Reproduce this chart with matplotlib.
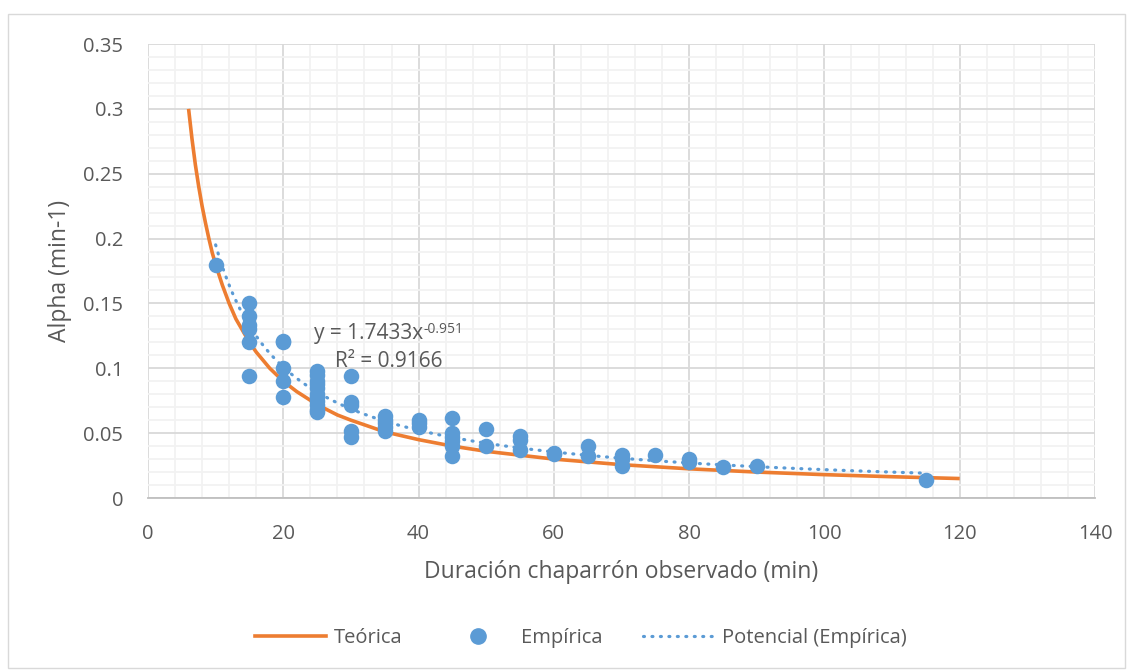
import matplotlib
matplotlib.use("Agg")
import matplotlib.pyplot as plt
import numpy as np
from matplotlib.ticker import MultipleLocator, FuncFormatter
from matplotlib.lines import Line2D

# Theoretical curve
teo_x = [6, 6.5, 7, 7.5, 8, 8.5, 9, 9.5, 10, 11, 12, 13, 14, 15, 16, 18, 20, 22, 25, 28, 30,
         35, 40, 45, 50, 60, 70, 80, 90, 100, 110, 120]
teo_y = [0.3, 0.277, 0.257, 0.24, 0.225, 0.212, 0.2, 0.189, 0.18, 0.164, 0.15, 0.138, 0.129,
         0.12, 0.1125, 0.1, 0.09, 0.082, 0.072, 0.064, 0.06, 0.051, 0.045, 0.04, 0.036,
         0.03, 0.0257, 0.0225, 0.02, 0.018, 0.0164, 0.015]

# Empirical points
emp_x = [10,
         15, 15, 15, 15, 15, 15,
         20, 20, 20, 20, 20,
         25, 25, 25, 25, 25, 25, 25, 25, 25, 25, 25,
         30, 30, 30, 30, 30,
         35, 35, 35, 35, 35,
         40, 40, 40,
         45, 45, 45, 45, 45, 45,
         50, 50,
         55, 55, 55,
         60, 60,
         65, 65,
         70, 70, 70,
         75,
         80, 80,
         85,
         90,
         115]
emp_y = [0.18,
         0.15, 0.14, 0.133, 0.13, 0.12, 0.094,
         0.121, 0.12, 0.1, 0.09, 0.078,
         0.098, 0.095, 0.09, 0.088, 0.085, 0.08, 0.078, 0.075, 0.072, 0.068, 0.066,
         0.094, 0.074, 0.072, 0.052, 0.047,
         0.063, 0.06, 0.058, 0.055, 0.052,
         0.06, 0.058, 0.055,
         0.062, 0.05, 0.047, 0.044, 0.04, 0.032,
         0.053, 0.04,
         0.048, 0.045, 0.037,
         0.035, 0.034,
         0.04, 0.032,
         0.033, 0.03, 0.025,
         0.033,
         0.03, 0.028,
         0.024,
         0.025,
         0.014]

# Power trendline coefficients (as shown on chart)
trend_a = 1.7433
trend_b = -0.951
r2 = 0.9166

ORANGE = "#ED7D31"
BLUE = "#5B9BD5"
TXT = "#595959"
DOTS = (0, (0.3, 2.35))

plt.rcParams['font.family'] = ['Open Sans', 'DejaVu Sans']

W, H = 1132, 670
fig = plt.figure(figsize=(W/100, H/100), dpi=100)
ax = fig.add_axes([148/W, 1-498/H, (1095-148)/W, (498-44)/H])

ax.set_xlim(0, 140)
ax.set_ylim(0, 0.35)
ax.xaxis.set_major_locator(MultipleLocator(20))
ax.xaxis.set_minor_locator(MultipleLocator(4))
ax.yaxis.set_major_locator(MultipleLocator(0.05))
ax.yaxis.set_minor_locator(MultipleLocator(0.01))
ax.grid(which='minor', color='#F2F2F2', linewidth=1.3, zorder=0)
ax.grid(which='major', color='#D9D9D9', linewidth=1.3, zorder=0)
ax.set_axisbelow(True)

def fmt(v, pos):
    return f"{v:.2f}".rstrip('0').rstrip('.')
ax.yaxis.set_major_formatter(FuncFormatter(fmt))

for sp in ['top', 'right', 'left']:
    ax.spines[sp].set_visible(False)
ax.spines['bottom'].set_color('#BFBFBF')
ax.spines['bottom'].set_linewidth(1.3)
ax.tick_params(which='both', length=0, labelsize=14.5, labelcolor=TXT)
ax.tick_params(axis='x', pad=19)
ax.tick_params(axis='y', pad=18)

ax.plot(teo_x, teo_y, color=ORANGE, linewidth=2.6, zorder=3, solid_capstyle='butt')
ax.scatter(emp_x, emp_y, s=125, color=BLUE, zorder=4, linewidths=0)
tx = np.linspace(min(emp_x), max(emp_x), 300)
ax.plot(tx, trend_a * tx ** trend_b, color=BLUE, linewidth=2.3, linestyle=DOTS,
        dash_capstyle='round', zorder=5)

t1 = ax.text(24.5, 0.1226, f"y = {trend_a}x", fontsize=15, color=TXT,
             va='baseline', ha='left', zorder=6)
ax.annotate(f"{trend_b}", xy=(1.0, 1.0), xycoords=t1, xytext=(0.5, 0.5),
            textcoords='offset points', fontsize=10, color=TXT, va='top', ha='left', zorder=6)
ax.text(27.6, 0.101, f"R² = {r2}", fontsize=15, color=TXT, va='baseline', ha='left', zorder=6)

ax.set_xlabel("Duración chaparrón observado (min)", fontsize=16.5, color=TXT, labelpad=11.5)
ax.set_ylabel("Alpha (min-1)", fontsize=16.5, color=TXT, labelpad=8)

handles = [Line2D([0], [0], color=ORANGE, linewidth=2.6),
           Line2D([0], [0], color=BLUE, marker='o', linestyle='none', markersize=11),
           Line2D([0], [0], color=BLUE, linewidth=2.3, linestyle=DOTS, dash_capstyle='round')]
fig.legend(handles, ["Teórica", "Empírica", "Potencial (Empírica)"], loc='center',
           bbox_to_anchor=(581/W, 1-638/H), ncol=3, frameon=False, fontsize=14.5,
           labelcolor=TXT, handlelength=3.5, handletextpad=0.4, columnspacing=2.0)

fig.patches.append(plt.Rectangle((8/W, 2/H), 1 - 15/W, 1 - 16/H, transform=fig.transFigure,
                                 fill=False, edgecolor='#D9D9D9', linewidth=1))
fig.savefig("out.png", dpi=100)
